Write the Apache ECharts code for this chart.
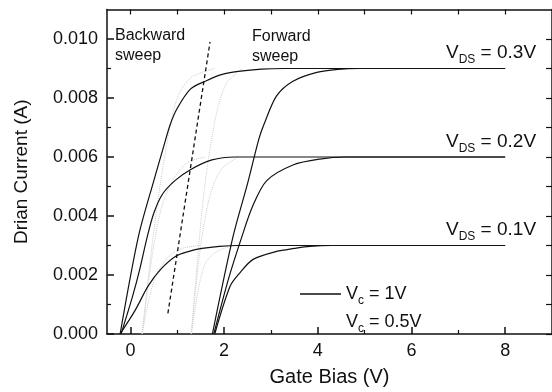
<!DOCTYPE html>
<html><head><meta charset="utf-8">
<script src="https://cdn.jsdelivr.net/npm/echarts@6/dist/echarts.min.js"></script>
<style>html,body{margin:0;padding:0;background:#fff}#c{width:552px;height:392px}</style>
</head><body><div id="c"></div>
<script>
// ---- data ----
const xTicksMajor = [0, 2, 4, 6, 8];
const xTicksMinor = [1, 3, 5, 7];
const xTicksTop = [0, 1, 2, 3, 4, 5, 6, 7, 8];
const yTicksMajor = [0, 0.002, 0.004, 0.006, 0.008, 0.010];
const yTicksMinor = [0.001, 0.003, 0.005, 0.007, 0.009];

// V_c = 1V, backward sweep
const back01 = [[-0.22,0],[0.1,0.0008],[0.38,0.00163],[0.65,0.0022],[0.96,0.00263],[1.25,0.0028],[1.53,0.0029],[1.9,0.00297],[2.3,0.003],[8,0.003]];
const back02 = [[-0.2,0],[0.05,0.0013],[0.2,0.0022],[0.36,0.0033],[0.5,0.0041],[0.68,0.00473],[0.95,0.0052],[1.28,0.00557],[1.74,0.0059],[2.23,0.006],[8,0.006]];
const back03 = [[-0.22,0],[0.17,0.0033],[0.5,0.0052],[0.7,0.0063],[0.85,0.0071],[1.0,0.00765],[1.28,0.0083],[1.6,0.00857],[1.96,0.0088],[2.3,0.0089],[2.8,0.00898],[3.3,0.009],[8,0.009]];
// V_c = 1V, forward sweep
const fwd01 = [[1.8,0],[2.13,0.00163],[2.35,0.0021],[2.62,0.00253],[3.12,0.0028],[3.5,0.0029],[3.83,0.00297],[4.3,0.003],[8,0.003]];
const fwd02 = [[1.78,0],[2.1,0.0019],[2.38,0.0033],[2.6,0.0043],[2.91,0.0052],[3.47,0.00573],[4.04,0.00593],[4.6,0.006],[8,0.006]];
const fwd03 = [[1.75,0],[2.19,0.0033],[2.5,0.0051],[2.74,0.0066],[2.85,0.0071],[3.12,0.00807],[3.47,0.00857],[3.98,0.00887],[4.43,0.00897],[4.9,0.009],[8,0.009]];
// V_c = 0.5V (faint dotted)
const back01h = [[0.25,0],[0.4,0.0012],[0.55,0.002],[0.8,0.0026],[1.1,0.0029],[1.5,0.003]];
const back02h = [[0.25,0],[0.45,0.0025],[0.65,0.0042],[0.9,0.0052],[1.2,0.0058],[1.6,0.006]];
const back03h = [[0.25,0],[0.5,0.0035],[0.75,0.0062],[1.0,0.0080],[1.3,0.0087],[1.8,0.009]];
const fwd01h = [[1.3,0],[1.45,0.0015],[1.6,0.0024],[1.85,0.0028],[2.2,0.003]];
const fwd02h = [[1.3,0],[1.5,0.003],[1.7,0.0047],[1.95,0.0056],[2.3,0.006]];
const fwd03h = [[1.3,0],[1.55,0.0045],[1.8,0.0072],[2.05,0.0085],[2.4,0.009]];
// dashed separator
const dashLine = [[0.8,0.0007],[1.7,0.0099]];

const FONT = '"Liberation Sans", Arial, Helvetica, sans-serif';
const chart = echarts.init(document.getElementById('c'), null, {renderer:'canvas'});

function solid(data){ return {type:'line', name:'Vc1', data, smooth:0.3, symbol:'none', lineStyle:{color:'#111', width:1.2}, itemStyle:{color:'#111'}, z:5}; }
function dotted(data){ return {type:'line', name:'Vc05', data, smooth:0.3, symbol:'none', lineStyle:{color:'#cccccc', width:1, type:'dotted'}, itemStyle:{color:'#cccccc'}, z:3}; }

const axisCommon = {type:'value', min:-0.5, max:9, splitLine:{show:false}};
const yCommon = {type:'value', min:0, max:0.011, splitLine:{show:false}};
const lineS = {show:true, onZero:false, lineStyle:{color:'#111', width:1.5}};
const noLine = {show:false, onZero:false};

const subRich = {s:{fontSize:12, fontFamily:FONT, color:'#111', padding:[14,0,0,0]}};

chart.setOption({
  animation:false,
  backgroundColor:'#fff',
  grid:{left:107, top:9.5, width:447, height:329.5},
  legend:{
    left:295, top:280, orient:'vertical', itemWidth:41, itemHeight:1.5, itemGap:6,
    data:[{name:'Vc1', icon:'rect', itemStyle:{color:'#111'}},{name:'Vc05', icon:'rect', itemStyle:{opacity:0}}],
    formatter: n => n === 'Vc1' ? 'V{s|c} = 1V' : 'V{s|c} = 0.5V',
    textStyle:{fontSize:18, fontFamily:FONT, color:'#111', rich:subRich}
  },
  xAxis:[
    Object.assign({}, axisCommon, {position:'bottom', axisLine:lineS,
      axisTick:{inside:true, length:7, customValues:xTicksMajor, lineStyle:{color:'#111', width:1.5}},
      axisLabel:{customValues:xTicksMajor, fontSize:18, fontFamily:FONT, color:'#111', margin:8},
      name:'Gate Bias (V)', nameLocation:'middle', nameGap:33, nameTextStyle:{fontSize:20, fontFamily:FONT, color:'#111'}}),
    Object.assign({}, axisCommon, {position:'bottom', axisLine:noLine,
      axisTick:{inside:true, length:4, customValues:xTicksMinor, lineStyle:{color:'#111', width:1.2}},
      axisLabel:{show:false}}),
    Object.assign({}, axisCommon, {position:'top', axisLine:lineS,
      axisTick:{inside:true, length:5, customValues:xTicksTop, lineStyle:{color:'#111', width:1.2}},
      axisLabel:{show:false}})
  ],
  yAxis:[
    Object.assign({}, yCommon, {position:'left', axisLine:lineS,
      axisTick:{inside:true, length:7, customValues:yTicksMajor, lineStyle:{color:'#111', width:1.5}},
      axisLabel:{customValues:yTicksMajor, formatter:v => v.toFixed(3), fontSize:18, fontFamily:FONT, color:'#111', margin:9},
      name:'Drian Current (A)', nameLocation:'middle', nameGap:76, nameRotate:90, nameTextStyle:{fontSize:19, fontFamily:FONT, color:'#111'}}),
    Object.assign({}, yCommon, {position:'left', axisLine:noLine,
      axisTick:{inside:true, length:4, customValues:yTicksMinor, lineStyle:{color:'#111', width:1.2}},
      axisLabel:{show:false}}),
    Object.assign({}, yCommon, {position:'right', axisLine:lineS,
      axisTick:{inside:true, length:6, customValues:yTicksMajor.concat(yTicksMinor), lineStyle:{color:'#111', width:1.2}},
      axisLabel:{show:false}})
  ],
  series:[
    dotted(back01h), dotted(back02h), dotted(back03h), dotted(fwd01h), dotted(fwd02h), dotted(fwd03h),
    solid(back01), solid(back02), solid(back03), solid(fwd01), solid(fwd02), solid(fwd03),
    {type:'line', name:'sep', data:dashLine, symbol:'none', lineStyle:{color:'#111', width:1.3, type:[4,3]}, z:6}
  ],
  graphic:[
    {type:'text', left:115, top:26, style:{text:'Backward\nsweep', font:'16px '+FONT, fill:'#111', lineHeight:20}},
    {type:'text', left:252, top:27, style:{text:'Forward\nsweep', font:'16px '+FONT, fill:'#111', lineHeight:20}},
    {type:'text', left:446, top:43, style:{text:'V{s|DS} = 0.3V', font:'19px '+FONT, fill:'#111', rich:subRich}},
    {type:'text', left:446, top:132, style:{text:'V{s|DS} = 0.2V', font:'19px '+FONT, fill:'#111', rich:subRich}},
    {type:'text', left:446, top:220, style:{text:'V{s|DS} = 0.1V', font:'19px '+FONT, fill:'#111', rich:subRich}}
  ]
});
</script></body></html>
